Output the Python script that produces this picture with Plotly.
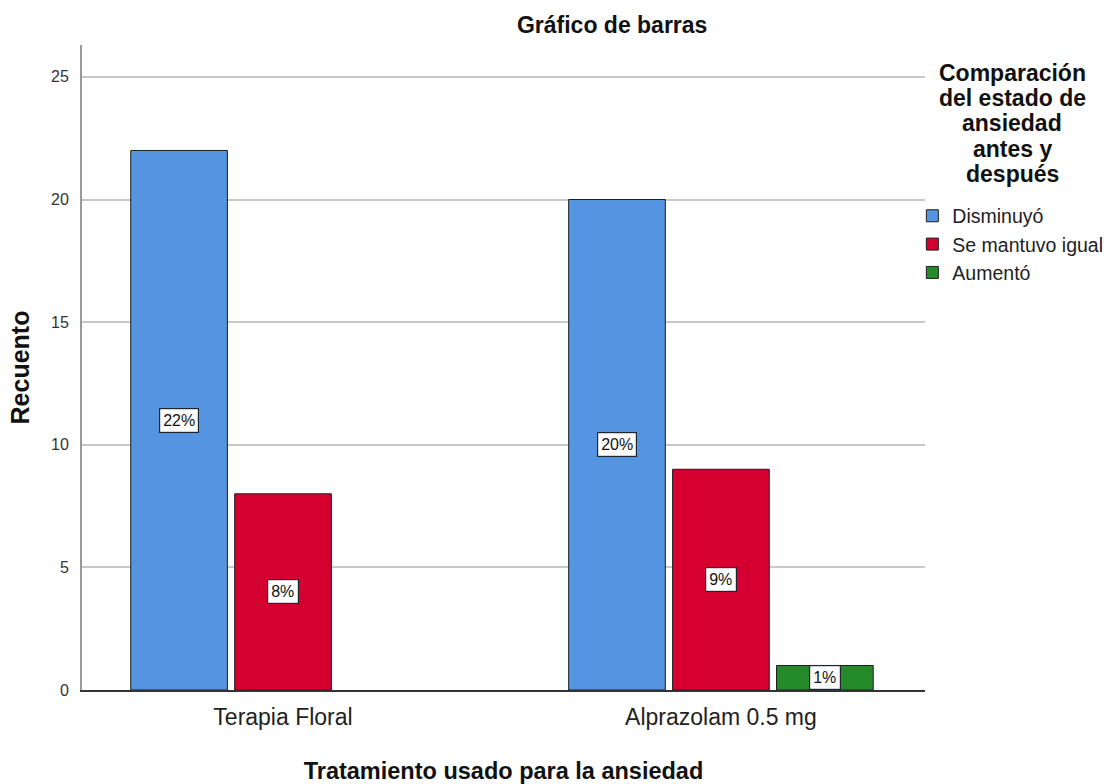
import plotly.graph_objects as go

# Data: counts per treatment and outcome
categorias = ["Terapia Floral", "Alprazolam 0.5 mg"]
series = ["Disminuyó", "Se mantuvo igual", "Aumentó"]
disminuyo = [22, 20]
se_mantuvo = [8, 9]
aumento = [None, 1]
valores = [disminuyo, se_mantuvo, aumento]
colores = ["#5594E0", "#D5002F", "#258A2A"]
titulo_leyenda = ["Comparación", "del estado de", "ansiedad", "antes y", "después"]

FONT = "Liberation Sans, Arial, sans-serif"
BARGAP = 0.288
n = len(series)

fig = go.Figure()
for nombre, vals, col in zip(series, valores, colores):
    fig.add_trace(go.Bar(
        x=categorias, y=vals, name=nombre,
        marker=dict(color=col, line=dict(color="#1e1e1e", width=1)),
    ))

# Percentage labels in white boxes at the middle of each bar
slot = (1 - BARGAP) / n
for i, vals in enumerate(valores):
    off = (i - (n - 1) / 2) * slot
    for j, v in enumerate(vals):
        if v is None:
            continue
        fig.add_annotation(
            x=j + off, y=v / 2, xref="x", yref="y",
            text=f"{v}%", showarrow=False,
            font=dict(family=FONT, size=16, color="#111"),
            bgcolor="white", bordercolor="#1c2533", borderwidth=1.2, borderpad=3,
        )

# Plot-area box in pixels (fixed margins)
pa_l, pa_r, pa_t, pa_b = 82, 925, 45, 690

# Legend heading, one centred line each for tight line spacing
for k, linea in enumerate(titulo_leyenda):
    fig.add_annotation(
        x=(1012 - pa_l) / (pa_r - pa_l),
        y=(pa_b - (73 + 25.2 * k)) / (pa_b - pa_t),
        xref="paper", yref="paper",
        text=f"<b>{linea}</b>", showarrow=False,
        font=dict(family=FONT, size=23, color="#111"),
        xanchor="center", yanchor="middle",
    )

fig.update_layout(
    width=1104, height=784,
    paper_bgcolor="white", plot_bgcolor="white",
    margin=dict(l=pa_l, r=1104 - pa_r, t=pa_t, b=784 - pa_b, autoexpand=False),
    barmode="group", bargap=BARGAP, bargroupgap=0.07,
    font=dict(family=FONT, color="#222"),
    title=dict(text="<b>Gráfico de barras</b>", x=0.5545, xanchor="center",
               y=0.968, yanchor="middle", font=dict(size=23, color="#111")),
    legend=dict(
        x=0.985, xanchor="left", y=0.765, yanchor="top",
        bgcolor="rgba(0,0,0,0)",
        font=dict(size=19.5, color="#222"),
        itemwidth=30, tracegroupgap=0,
    ),
)

fig.update_xaxes(
    type="category", range=[-0.459, 1.466],
    showline=True, linecolor="#333", linewidth=1.5,
    ticks="", tickfont=dict(size=23, color="#222"), ticklabelstandoff=6,
    title=dict(text="<b>Tratamiento usado para la ansiedad</b>",
               font=dict(size=23.5, color="#111"), standoff=33),
)
fig.update_yaxes(
    range=[0, 26.3], tickvals=[0, 5, 10, 15, 20, 25],
    showline=True, linecolor="#999", linewidth=2,
    showgrid=True, gridcolor="#C8C8C8", gridwidth=1.5,
    zeroline=False, ticks="", tickfont=dict(size=16, color="#333"),
    ticklabelstandoff=8,
    title=dict(text="<b>Recuento</b>", font=dict(size=25, color="#111"), standoff=14),
)

fig.write_html("out.html")
